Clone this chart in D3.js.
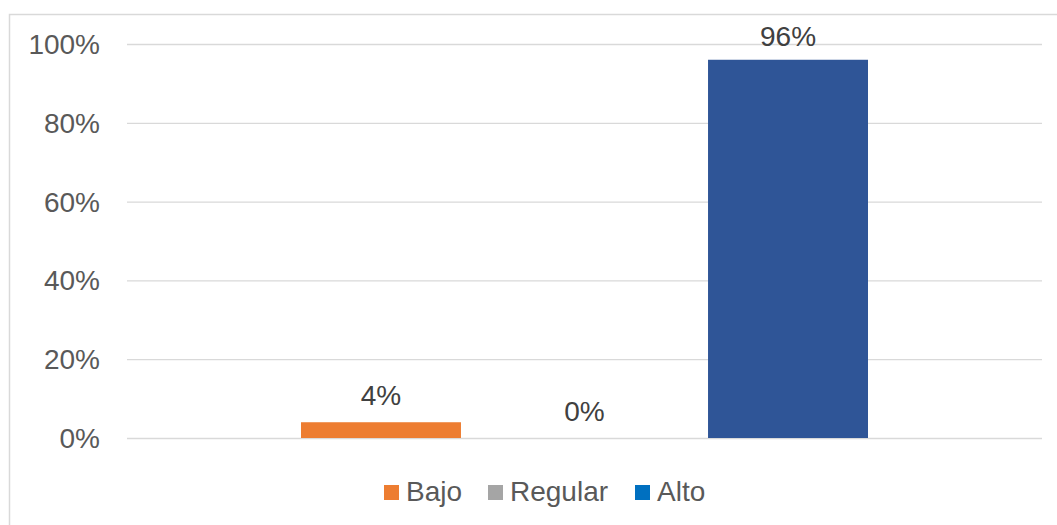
<!DOCTYPE html>
<html>
<head>
<meta charset="utf-8">
<script src="https://cdn.jsdelivr.net/npm/d3@7"></script>
<style>
  html, body { margin: 0; padding: 0; background: #fff; }
  svg { display: block; font-family: "Liberation Sans", Arial, sans-serif; }
</style>
</head>
<body>
<svg width="1057" height="525"></svg>
<script>
const width = 1057, height = 525;
const svg = d3.select("svg");

// données
const series = ["Bajo", "Regular", "Alto"];
const values = [4, 0, 96];
const ticks = [0, 20, 40, 60, 80, 100];
const barColors = ["#ED7D31", "#A5A5A5", "#2F5597"];
const legendColors = ["#ED7D31", "#A5A5A5", "#0070C0"];

// cadre du graphique
svg.append("rect")
  .attr("x", 9.5).attr("y", 14.5)
  .attr("width", 1100).attr("height", 600)
  .attr("fill", "none")
  .attr("stroke", "#D9D9D9")
  .attr("stroke-width", 1.5);

const plot = { left: 127, right: 1042, top: 44, bottom: 438 };

const y = d3.scaleLinear()
  .domain([0, 100])
  .range([plot.bottom, plot.top]);

const x = d3.scaleBand()
  .domain(series)
  .range([plot.left, plot.right])
  .paddingInner(0.214)
  .paddingOuter(0.855);

// grille horizontale
svg.append("g")
  .attr("transform", `translate(${plot.left},0)`)
  .call(d3.axisLeft(y).tickValues(ticks).tickSize(-(plot.right - plot.left)).tickFormat(""))
  .call(g => g.select(".domain").remove())
  .selectAll("line")
  .attr("stroke", "#D9D9D9")
  .attr("stroke-width", 1.3);

// étiquettes de l'axe Y
svg.append("g")
  .selectAll("text")
  .data(ticks)
  .enter()
  .append("text")
  .attr("x", 100)
  .attr("y", d => y(d) + 10)
  .attr("text-anchor", "end")
  .attr("font-size", "28px")
  .attr("fill", "#595959")
  .text(d => d + "%");

// barres
svg.selectAll("rect.bar")
  .data(values)
  .enter()
  .append("rect")
  .attr("class", "bar")
  .attr("x", (d, i) => x(series[i]))
  .attr("y", d => y(d))
  .attr("width", x.bandwidth())
  .attr("height", d => plot.bottom - y(d))
  .attr("fill", (d, i) => barColors[i]);

// étiquettes de données
svg.selectAll("text.label")
  .data(values)
  .enter()
  .append("text")
  .attr("class", "label")
  .attr("x", (d, i) => x(series[i]) + x.bandwidth() / 2)
  .attr("y", d => Math.max(y(d) - 17, plot.top + 2))
  .attr("text-anchor", "middle")
  .attr("font-size", "28px")
  .attr("fill", "#404040")
  .text(d => d + "%");

// légende
const legendX = [384, 488, 635];
const legend = svg.append("g")
  .selectAll("g")
  .data(series)
  .enter()
  .append("g")
  .attr("transform", (d, i) => `translate(${legendX[i]},485)`);

legend.append("rect")
  .attr("width", 15).attr("height", 15)
  .attr("fill", (d, i) => legendColors[i]);

legend.append("text")
  .attr("x", 22)
  .attr("y", 16)
  .attr("font-size", "28px")
  .attr("fill", "#595959")
  .text(d => d);
</script>
</body>
</html>
